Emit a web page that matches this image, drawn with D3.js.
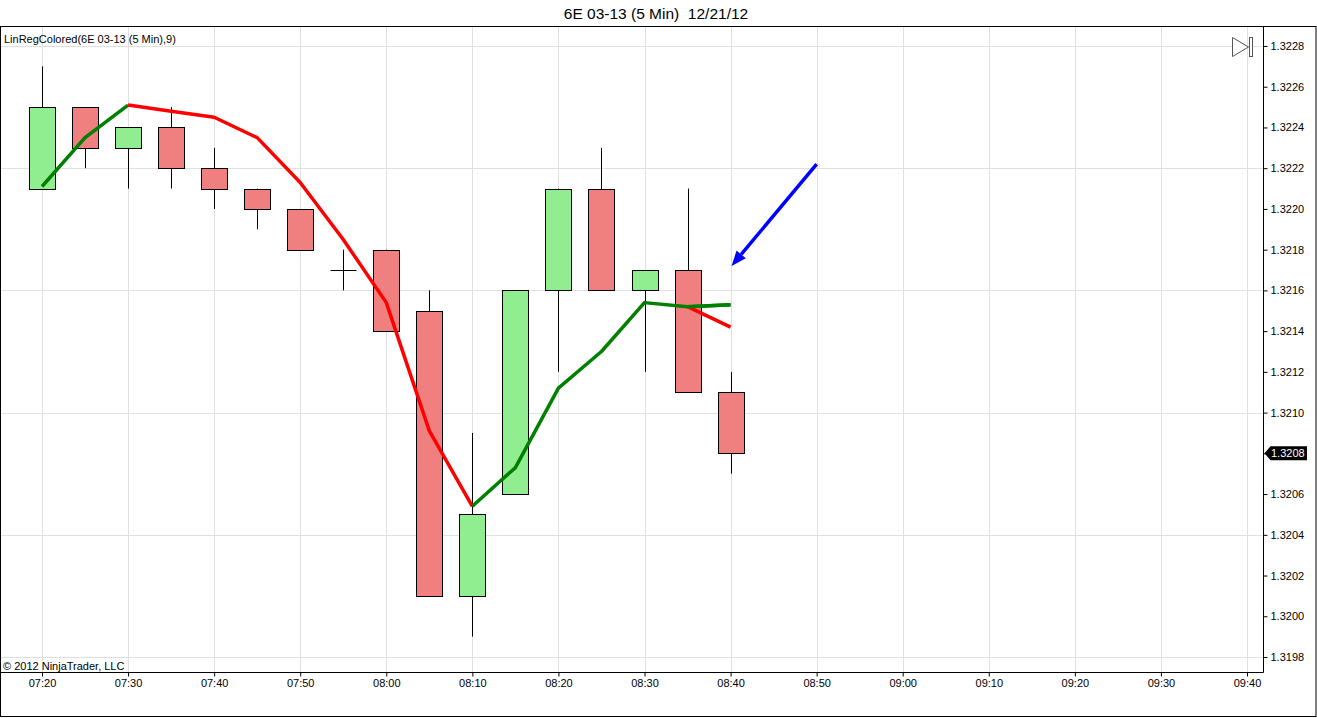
<!DOCTYPE html>
<html>
<head>
<meta charset="utf-8">
<script src="https://cdn.jsdelivr.net/npm/d3@7"></script>
<style>
  html, body { margin: 0; padding: 0; background: #fff; }
  svg { display: block; font-family: "Liberation Sans", Arial, sans-serif; }
</style>
</head>
<body>
<svg id="chart" width="1317" height="718"></svg>
<script>
// ---- data ----
const times = ["07:20","07:25","07:30","07:35","07:40","07:45","07:50","07:55","08:00","08:05","08:10","08:15","08:20","08:25","08:30","08:35","08:40"];
const opens  = [1.3221,1.3225,1.3223,1.3224,1.3222,1.3221,1.3220,1.3217,1.3218,1.3215,1.3201,1.3206,1.3216,1.3221,1.3216,1.3217,1.3211];
const highs  = [1.3227,1.3225,1.3224,1.3225,1.3223,1.3221,1.3220,1.3218,1.3218,1.3216,1.3209,1.3216,1.3221,1.3223,1.3217,1.3221,1.3212];
const lows   = [1.3221,1.3222,1.3221,1.3221,1.3220,1.3219,1.3218,1.3216,1.3214,1.3201,1.3199,1.3206,1.3212,1.3216,1.3212,1.3211,1.3207];
const closes = [1.3225,1.3223,1.3224,1.3222,1.3221,1.3220,1.3218,1.3217,1.3214,1.3201,1.3205,1.3216,1.3221,1.3216,1.3217,1.3211,1.3208];
const linReg = [1.32211,1.32235,1.32251,1.32248,1.32245,1.32235,1.32213,1.32185,1.32154,1.32091,1.32054,1.32073,1.32112,1.32130,1.32154,1.32152,1.32153];
const linRegTrend = ["up","up","up","down","down","down","down","down","down","down","down","up","up","up","up","up","up"];
const linRegTailTimes = ["08:35","08:40"];
const linRegTail = [1.32152,1.32142];
const yTicks = [1.3198,1.3200,1.3202,1.3204,1.3206,1.3208,1.3210,1.3212,1.3214,1.3216,1.3218,1.3220,1.3222,1.3224,1.3226,1.3228];
const yGrid = [1.3198,1.3204,1.3210,1.3216,1.3222,1.3228];
const xTickLabels = ["07:20","07:30","07:40","07:50","08:00","08:10","08:20","08:30","08:40","08:50","09:00","09:10","09:20","09:30","09:40"];
const lastPrice = 1.3208;
const arrowFrom = {t: "08:50", p: 1.32222};
const arrowTo = {t: "08:40", p: 1.32172};
const titleText = "6E 03-13 (5 Min)  12/21/12";
const indicatorLabel = "LinRegColored(6E 03-13 (5 Min),9)";
const copyright = "\u00A9 2012 NinjaTrader, LLC";

// ---- layout ----
const W = 1317, H = 718;
const plotLeft = 1, plotTop = 27, axisX = 1263.5, axisY = 672.5;
const parse = d3.timeParse("%H:%M");
const x = d3.scaleTime().domain([parse("07:20"), parse("09:40")]).range([42, 1247]);
const y = d3.scaleLinear().domain([1.3198, 1.3228]).range([657, 46]);
const svg = d3.select("#chart");
const upColor = "#90EE90", downColor = "#F08080";
const lineUp = "#008000", lineDown = "#FF0000";
const bodyW = 26;

// title
svg.append("text").attr("x", 656).attr("y", 19).attr("text-anchor", "middle")
  .attr("font-size", 15.5).attr("fill", "#000").style("white-space", "pre").text(titleText);

// outer frame
svg.append("rect").attr("x", 0.5).attr("y", 26.5).attr("width", W - 1.5).attr("height", 716.5 - 26.5)
  .attr("fill", "none").attr("stroke", "#000").attr("stroke-width", 1);

// grid
const grid = svg.append("g").attr("stroke", "#e0e0e0").attr("stroke-width", 1);
grid.selectAll("line.v").data(xTickLabels).join("line")
  .attr("x1", d => Math.round(x(parse(d))) + 0.5).attr("x2", d => Math.round(x(parse(d))) + 0.5)
  .attr("y1", plotTop).attr("y2", axisY);
grid.selectAll("line.h").data(yGrid).join("line")
  .attr("x1", plotLeft).attr("x2", axisX)
  .attr("y1", d => Math.round(y(d)) + 0.5).attr("y2", d => Math.round(y(d)) + 0.5);

// axes
const yAxis = d3.axisRight(y).tickValues(yTicks).tickFormat(d3.format(".4f")).tickSize(4).tickPadding(3);
const yg = svg.append("g").attr("transform", `translate(${axisX},0)`).call(yAxis);
yg.select(".domain").remove();
yg.selectAll("text").attr("font-size", 11).attr("font-family", "Liberation Sans, Arial, sans-serif").attr("fill", "#000");
yg.selectAll("line").attr("stroke", "#000");

const xAxis = d3.axisBottom(x).tickValues(xTickLabels.map(parse)).tickFormat(d3.timeFormat("%H:%M")).tickSize(4).tickPadding(3);
const xg = svg.append("g").attr("transform", `translate(0,${axisY})`).call(xAxis);
xg.select(".domain").remove();
xg.selectAll("text").attr("font-size", 11).attr("font-family", "Liberation Sans, Arial, sans-serif").attr("fill", "#000");
xg.selectAll("line").attr("stroke", "#000");

svg.append("line").attr("x1", 0).attr("x2", axisX).attr("y1", axisY).attr("y2", axisY).attr("stroke", "#000");
svg.append("line").attr("x1", axisX).attr("x2", axisX).attr("y1", plotTop).attr("y2", axisY).attr("stroke", "#000");

// candles
const bars = times.map((t, i) => ({t: parse(t), o: opens[i], h: highs[i], l: lows[i], c: closes[i]}));
const cg = svg.append("g");
const cx = d => Math.round(x(d.t)) + 0.5;
cg.selectAll("line.wick").data(bars).join("line")
  .attr("x1", cx).attr("x2", cx)
  .attr("y1", d => y(d.h)).attr("y2", d => y(d.l))
  .attr("stroke", "#000").attr("stroke-width", 1);
cg.selectAll("rect.body").data(bars.filter(d => d.o !== d.c)).join("rect")
  .attr("x", d => cx(d) - bodyW / 2).attr("width", bodyW)
  .attr("y", d => Math.round(y(Math.max(d.o, d.c))) + 0.5)
  .attr("height", d => Math.round(y(Math.min(d.o, d.c))) - Math.round(y(Math.max(d.o, d.c))))
  .attr("fill", d => d.c > d.o ? upColor : downColor)
  .attr("stroke", "#000").attr("stroke-width", 1);
cg.selectAll("line.doji").data(bars.filter(d => d.o === d.c)).join("line")
  .attr("x1", d => cx(d) - bodyW / 2).attr("x2", d => cx(d) + bodyW / 2)
  .attr("y1", d => Math.round(y(d.o)) + 0.5).attr("y2", d => Math.round(y(d.o)) + 0.5)
  .attr("stroke", "#000").attr("stroke-width", 1);

// LinReg line, coloured by segment
const lg = svg.append("g").attr("fill", "none").attr("stroke-width", 3.5).attr("stroke-linecap", "butt").attr("stroke-linejoin", "round");
const pts = times.map((t, i) => [x(parse(t)), y(linReg[i]), linRegTrend[i]]);
let runs = [];
for (let i = 1; i < pts.length; i++) {
  const col = pts[i][2];
  if (runs.length && runs[runs.length - 1].col === col) runs[runs.length - 1].p.push(pts[i]);
  else runs.push({col, p: [pts[i - 1], pts[i]]});
}
const lineGen = d3.line().x(d => d[0]).y(d => d[1]);
lg.selectAll("path.run").data(runs).join("path")
  .attr("d", d => lineGen(d.p))
  .attr("stroke", d => d.col === "up" ? lineUp : lineDown);
lg.append("path")
  .attr("d", lineGen(linRegTailTimes.map((t, i) => [x(parse(t)), y(linRegTail[i])])))
  .attr("stroke", lineDown);
lg.append("path")
  .attr("d", lineGen([pts[pts.length - 2], pts[pts.length - 1]]))
  .attr("stroke", lineUp);

// blue arrow
const ax1 = x(parse(arrowFrom.t)), ay1 = y(arrowFrom.p);
const ax2 = x(parse(arrowTo.t)) + 1, ay2 = y(arrowTo.p);
const ang = Math.atan2(ay2 - ay1, ax2 - ax1);
const headLen = 15, headHalf = 6;
const bx = ax2 - headLen * Math.cos(ang), by = ay2 - headLen * Math.sin(ang);
svg.append("line").attr("x1", ax1).attr("y1", ay1).attr("x2", bx).attr("y2", by)
  .attr("stroke", "#0000FF").attr("stroke-width", 3.5);
svg.append("path")
  .attr("d", `M${ax2},${ay2} L${bx + headHalf * Math.sin(ang)},${by - headHalf * Math.cos(ang)} L${bx - headHalf * Math.sin(ang)},${by + headHalf * Math.cos(ang)} Z`)
  .attr("fill", "#0000FF");

// last price marker
const ly = y(lastPrice);
svg.append("path")
  .attr("d", `M${axisX + 1},${ly} L${axisX + 7},${ly - 7} L1307,${ly - 7} L1307,${ly + 7} L${axisX + 7},${ly + 7} Z`)
  .attr("fill", "#000");
svg.append("text").attr("x", 1271).attr("y", ly + 4).attr("font-size", 11).attr("fill", "#fff")
  .text(d3.format(".4f")(lastPrice));

// top-right scroll icon
svg.append("path").attr("d", "M1232.5,37.5 L1232.5,56.5 L1248.5,47 Z").attr("fill", "#fff").attr("stroke", "#555");
svg.append("rect").attr("x", 1249.5).attr("y", 37.5).attr("width", 3).attr("height", 19).attr("fill", "#fff").attr("stroke", "#555");

// labels
svg.append("text").attr("x", 4).attr("y", 43).attr("font-size", 11).attr("fill", "#000").text(indicatorLabel);
svg.append("text").attr("x", 3).attr("y", 670).attr("font-size", 11).attr("fill", "#000").text(copyright);
</script>
</body>
</html>
